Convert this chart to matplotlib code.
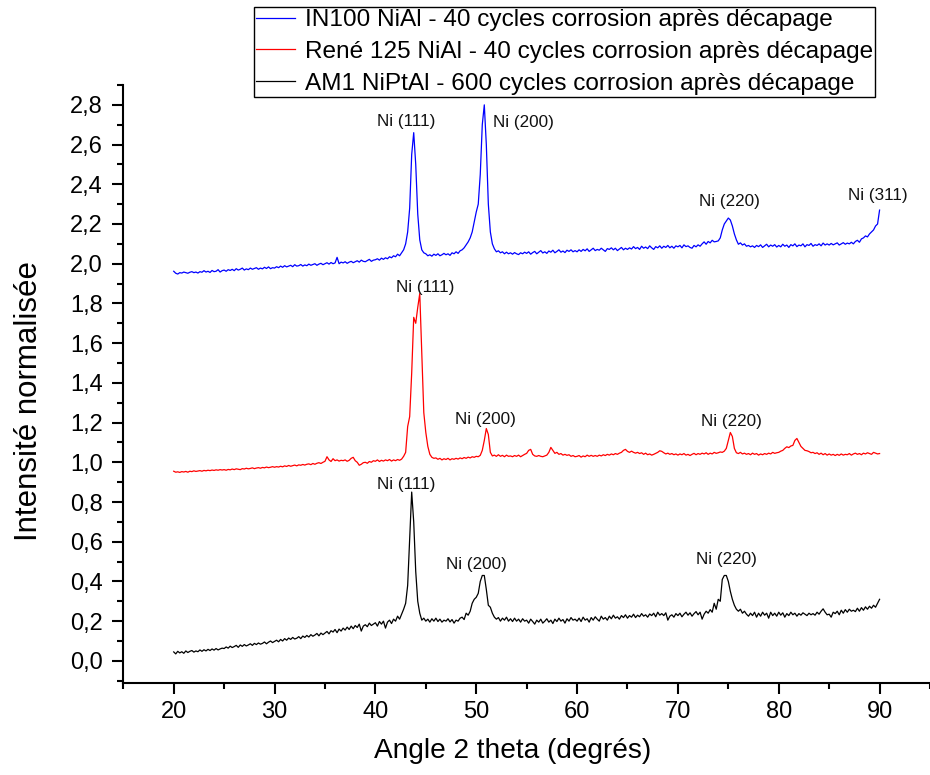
import numpy as np
import matplotlib
matplotlib.use("Agg")
import matplotlib.pyplot as plt
from matplotlib.ticker import MultipleLocator, FuncFormatter

# ---------------- data ----------------
angle_start, angle_end, n_points = 20.0, 90.0, 351   # measurement grid, 0.2 deg step

labels = [
    "IN100 NiAl - 40 cycles corrosion après décapage",
    "René 125 NiAl - 40 cycles corrosion après décapage",
    "AM1 NiPtAl - 600 cycles corrosion après décapage",
]
colors = ["#0000ff", "#ff0000", "#000000"]

in100 = [
    1.962,1.952,1.948,1.955,1.953,1.958,1.955,1.952,1.957,1.96,1.955,1.958,1.953,1.96,1.957,1.965,1.958,1.962,1.956,1.966,1.96,1.962,1.97,1.958,1.965,
    1.968,1.962,1.97,1.966,1.972,1.965,1.975,1.968,1.972,1.978,1.968,1.974,1.97,1.978,1.972,1.976,1.98,1.972,1.978,1.974,1.982,1.976,1.984,1.975,1.98,
    1.978,1.985,1.98,1.988,1.982,1.99,1.984,1.988,1.992,1.985,1.995,1.988,1.99,1.996,1.988,1.994,1.99,1.998,1.992,1.996,2.0,1.992,1.998,2.002,1.995,
    2.0,2.005,1.998,2.006,2.0,2.004,2.032,2.0,2.008,2.004,2.01,2.002,2.008,2.012,2.005,2.01,2.015,2.008,2.018,2.012,2.01,2.016,2.022,2.012,2.018,
    2.02,2.025,2.018,2.028,2.022,2.03,2.025,2.035,2.03,2.04,2.035,2.048,2.04,2.055,2.07,2.1,2.16,2.28,2.55,2.66,2.5,2.25,2.12,2.07,2.055,
    2.05,2.04,2.045,2.038,2.048,2.042,2.05,2.04,2.045,2.052,2.045,2.05,2.042,2.055,2.05,2.06,2.052,2.065,2.07,2.08,2.095,2.11,2.13,2.16,2.21,
    2.26,2.3,2.45,2.7,2.8,2.6,2.3,2.16,2.1,2.075,2.06,2.065,2.055,2.06,2.05,2.058,2.05,2.055,2.048,2.056,2.05,2.046,2.055,2.05,2.058,
    2.052,2.06,2.048,2.056,2.062,2.05,2.058,2.066,2.054,2.06,2.052,2.064,2.058,2.068,2.055,2.062,2.07,2.058,2.064,2.056,2.068,2.062,2.07,2.06,2.066,
    2.06,2.07,2.062,2.072,2.065,2.075,2.062,2.07,2.078,2.066,2.072,2.068,2.078,2.07,2.062,2.076,2.072,2.08,2.07,2.078,2.066,2.074,2.082,2.07,2.078,
    2.072,2.08,2.074,2.086,2.076,2.082,2.072,2.088,2.078,2.084,2.076,2.09,2.08,2.072,2.086,2.08,2.09,2.078,2.088,2.082,2.092,2.08,2.088,2.078,2.09,
    2.085,2.092,2.08,2.095,2.086,2.09,2.082,2.078,2.092,2.085,2.095,2.088,2.1,2.11,2.098,2.112,2.105,2.118,2.11,2.112,2.115,2.13,2.17,2.2,2.215,
    2.23,2.22,2.19,2.15,2.12,2.098,2.105,2.094,2.1,2.088,2.092,2.085,2.09,2.082,2.092,2.086,2.095,2.082,2.09,2.098,2.085,2.094,2.088,2.096,2.084,
    2.092,2.085,2.098,2.088,2.094,2.082,2.096,2.09,2.1,2.086,2.094,2.09,2.1,2.085,2.096,2.092,2.102,2.088,2.096,2.092,2.1,2.09,2.104,2.094,2.1,
    2.094,2.102,2.095,2.1,2.105,2.094,2.1,2.106,2.098,2.104,2.1,2.108,2.1,2.112,2.118,2.108,2.125,2.13,2.14,2.135,2.15,2.16,2.17,2.19,2.2,
    2.27,
]

rene125 = [
    0.955,0.95,0.952,0.949,0.953,0.951,0.954,0.95,0.955,0.953,0.957,0.954,0.956,0.958,0.955,0.959,0.957,0.96,0.958,0.961,0.959,0.962,0.96,0.963,0.961,
    0.963,0.96,0.964,0.962,0.966,0.963,0.967,0.965,0.963,0.968,0.966,0.97,0.967,0.969,0.972,0.968,0.971,0.973,0.97,0.974,0.972,0.976,0.973,0.975,0.978,
    0.975,0.978,0.976,0.98,0.977,0.982,0.979,0.984,0.98,0.983,0.986,0.982,0.987,0.985,0.989,0.986,0.99,0.992,0.988,0.994,0.99,0.995,0.998,0.994,1.0,
    1.005,1.028,1.012,1.004,1.018,1.008,1.012,1.006,1.01,1.008,1.012,1.005,1.01,1.02,1.025,1.008,1.0,0.985,0.99,0.998,1.0,0.995,1.004,1.0,1.008,
    1.005,1.012,1.004,1.01,1.006,1.012,1.008,1.014,1.006,1.012,1.008,1.014,1.01,1.016,1.03,1.05,1.18,1.23,1.45,1.73,1.70,1.78,1.85,1.55,1.25,
    1.15,1.08,1.04,1.025,1.02,1.022,1.015,1.02,1.012,1.018,1.014,1.02,1.012,1.018,1.015,1.02,1.016,1.022,1.018,1.024,1.02,1.026,1.022,1.028,1.025,
    1.03,1.028,1.035,1.06,1.11,1.17,1.14,1.05,1.032,1.036,1.03,1.038,1.03,1.035,1.028,1.036,1.03,1.032,1.028,1.034,1.03,1.036,1.028,1.034,1.04,
    1.045,1.06,1.065,1.04,1.032,1.03,1.034,1.03,1.028,1.032,1.036,1.05,1.075,1.06,1.045,1.05,1.04,1.044,1.036,1.04,1.035,1.038,1.03,1.034,1.028,
    1.03,1.034,1.026,1.032,1.028,1.036,1.03,1.035,1.03,1.034,1.03,1.036,1.032,1.038,1.034,1.04,1.036,1.042,1.038,1.044,1.04,1.046,1.05,1.06,1.065,
    1.055,1.05,1.056,1.05,1.046,1.05,1.044,1.048,1.04,1.046,1.038,1.042,1.036,1.04,1.045,1.05,1.058,1.055,1.048,1.042,1.046,1.04,1.044,1.038,1.042,
    1.036,1.042,1.038,1.044,1.036,1.04,1.034,1.04,1.045,1.038,1.044,1.04,1.046,1.042,1.048,1.04,1.046,1.042,1.05,1.045,1.048,1.052,1.05,1.056,1.07,
    1.11,1.15,1.13,1.07,1.048,1.044,1.05,1.042,1.046,1.04,1.044,1.038,1.046,1.04,1.044,1.036,1.042,1.038,1.044,1.04,1.046,1.042,1.05,1.045,1.048,
    1.05,1.056,1.06,1.07,1.078,1.074,1.082,1.085,1.11,1.12,1.1,1.08,1.07,1.06,1.058,1.054,1.048,1.05,1.044,1.048,1.04,1.046,1.038,1.044,1.036,
    1.042,1.036,1.04,1.034,1.04,1.035,1.042,1.036,1.04,1.038,1.044,1.036,1.042,1.046,1.04,1.044,1.038,1.046,1.042,1.048,1.044,1.04,1.05,1.046,1.042,
    1.044,
]

am1 = [
    0.045,0.035,0.048,0.04,0.046,0.038,0.05,0.042,0.048,0.052,0.044,0.05,0.046,0.055,0.048,0.056,0.05,0.058,0.052,0.06,0.054,0.062,0.055,0.06,0.064,
    0.062,0.07,0.064,0.074,0.067,0.072,0.078,0.068,0.08,0.073,0.082,0.075,0.08,0.086,0.078,0.088,0.082,0.09,0.084,0.088,0.095,0.086,0.094,0.1,0.092,
    0.098,0.104,0.096,0.108,0.1,0.112,0.104,0.115,0.108,0.118,0.11,0.114,0.122,0.112,0.125,0.118,0.128,0.12,0.132,0.124,0.13,0.138,0.126,0.14,0.132,
    0.14,0.148,0.136,0.152,0.145,0.158,0.142,0.16,0.15,0.165,0.155,0.17,0.158,0.175,0.162,0.178,0.168,0.185,0.15,0.175,0.182,0.172,0.19,0.178,0.185,
    0.192,0.175,0.198,0.185,0.2,0.165,0.195,0.205,0.188,0.21,0.2,0.225,0.21,0.235,0.26,0.29,0.38,0.62,0.85,0.7,0.45,0.3,0.24,0.205,0.215,
    0.2,0.21,0.195,0.212,0.2,0.215,0.198,0.21,0.195,0.205,0.2,0.212,0.196,0.208,0.19,0.205,0.2,0.215,0.22,0.208,0.24,0.23,0.25,0.29,0.31,
    0.32,0.34,0.4,0.43,0.43,0.36,0.28,0.27,0.24,0.22,0.21,0.218,0.2,0.215,0.205,0.22,0.2,0.212,0.198,0.215,0.2,0.21,0.195,0.212,0.2,
    0.205,0.19,0.21,0.198,0.185,0.205,0.195,0.21,0.19,0.2,0.212,0.195,0.205,0.188,0.21,0.198,0.215,0.2,0.208,0.19,0.212,0.2,0.218,0.205,0.21,
    0.2,0.215,0.198,0.22,0.205,0.212,0.195,0.218,0.205,0.222,0.21,0.2,0.225,0.21,0.218,0.205,0.225,0.212,0.23,0.215,0.222,0.21,0.228,0.218,0.232,
    0.215,0.228,0.22,0.235,0.218,0.23,0.222,0.238,0.225,0.232,0.22,0.236,0.228,0.24,0.222,0.245,0.23,0.238,0.228,0.242,0.205,0.225,0.232,0.22,0.238,
    0.228,0.24,0.222,0.235,0.245,0.23,0.242,0.225,0.238,0.248,0.232,0.245,0.21,0.235,0.25,0.24,0.258,0.245,0.29,0.26,0.31,0.3,0.41,0.43,0.43,
    0.4,0.35,0.31,0.28,0.26,0.25,0.26,0.24,0.25,0.235,0.225,0.24,0.228,0.245,0.22,0.24,0.225,0.245,0.23,0.24,0.215,0.245,0.228,0.24,0.225,
    0.245,0.23,0.242,0.22,0.238,0.228,0.245,0.232,0.24,0.225,0.238,0.23,0.242,0.235,0.228,0.24,0.232,0.238,0.23,0.245,0.235,0.25,0.262,0.245,0.232,
    0.235,0.22,0.245,0.238,0.25,0.232,0.255,0.24,0.258,0.245,0.26,0.25,0.255,0.248,0.265,0.25,0.268,0.255,0.272,0.26,0.275,0.265,0.28,0.27,0.29,
    0.31,
]

# peak annotations: (text, x, y)
peak_text = ["Ni (111)", "Ni (200)", "Ni (220)", "Ni (311)",
             "Ni (111)", "Ni (200)", "Ni (220)",
             "Ni (111)", "Ni (200)", "Ni (220)"]
peak_x = [43.07, 54.7, 75.1, 89.8, 44.96, 50.93, 75.3, 43.07, 50.07, 74.8]
peak_y = [2.716, 2.71, 2.313, 2.342, 1.88, 1.217, 1.205, 0.89, 0.483, 0.511]

xticks = [20, 30, 40, 50, 60, 70, 80, 90]
yticks = [0.0, 0.2, 0.4, 0.6, 0.8, 1.0, 1.2, 1.4, 1.6, 1.8, 2.0, 2.2, 2.4, 2.6, 2.8]

# ---------------- plot ----------------
plt.rcParams['font.family'] = ['Liberation Sans', 'DejaVu Sans']

fig = plt.figure(figsize=(9.3, 7.75), dpi=100)
W, H = 930, 775
left, right = 123.3 / W, 1.0
bottom, top = 1 - 682.7 / H, 1 - 85 / H
ax = fig.add_axes([left, bottom, right - left, top - bottom])

angles = np.linspace(angle_start, angle_end, n_points)
series = [in100, rene125, am1]
for ys, c, lab in zip(series, colors, labels):
    assert len(ys) == n_points, (lab, len(ys))
    ax.plot(angles, ys, color=c, lw=0.9, label=lab)

for t, x, y in zip(peak_text, peak_x, peak_y):
    ax.text(x, y, t, ha='center', va='center', fontsize=12.3, color='#111111')

ax.set_xlim(15, 95)
ax.set_ylim(-0.11, 2.90)
ax.set_xticks(xticks)
ax.set_yticks(yticks)
ax.xaxis.set_minor_locator(MultipleLocator(5))
ax.yaxis.set_minor_locator(MultipleLocator(0.1))
ax.yaxis.set_major_formatter(FuncFormatter(lambda v, p: f"{v:.1f}".replace('.', ',')))

for s in ['top', 'right']:
    ax.spines[s].set_visible(False)
for s in ['left', 'bottom']:
    ax.spines[s].set_linewidth(1.5)

ax.tick_params(which='major', direction='out', length=8.2, width=1.5, labelsize=17)
ax.tick_params(axis='y', which='major', pad=6.5)
ax.tick_params(axis='x', which='major', pad=5)
ax.tick_params(which='minor', direction='out', length=4, width=1.5)

ax.set_xlabel("Angle 2 theta (degrés)", fontsize=20.2)
ax.xaxis.set_label_coords(0.483, -0.093)
ax.set_ylabel("Intensité normalisée", fontsize=22.5)
ax.yaxis.set_label_coords(-0.098, 0.471)

leg = fig.legend(loc='upper right', bbox_to_anchor=(875 / W, 1 - 7 / H),
                 bbox_transform=fig.transFigure, fontsize=17.6, frameon=True,
                 fancybox=False, edgecolor='black', framealpha=1,
                 handlelength=1.6, handletextpad=0.4, labelspacing=0.4,
                 borderpad=0.08, borderaxespad=0)
leg.get_frame().set_linewidth(1.0)

fig.savefig("out.png", dpi=100)
